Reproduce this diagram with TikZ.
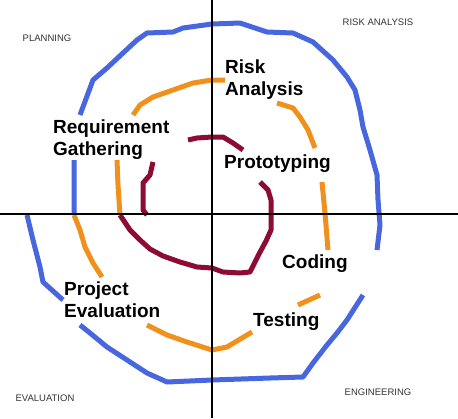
\documentclass[tikz,border=0pt]{standalone}
\usepackage{fontspec}
\setmainfont{Liberation Sans}
\definecolor{outerblue}{RGB}{72,102,222}
\definecolor{midorange}{RGB}{240,145,30}
\definecolor{innerred}{RGB}{140,12,52}

\begin{document}
\begin{tikzpicture}[x=1pt,y=-1pt,
   coil/.style={line width=5pt,line join=round},
   quadline/.style={line width=2pt},
   phase/.style={font=\fontsize{19}{22}\selectfont\bfseries,align=left,
                 anchor=north west,inner sep=0pt},
   quadrant/.style={font=\fontsize{9.5}{11}\selectfont,text=black!80,inner sep=0pt}]

\useasboundingbox (0,0) rectangle (458,418);

\draw[coil,outerblue]
    (27,215) -- (33,240) -- (40,267) -- (43,282) -- (63,300)
    (80,325) -- (90,333) -- (107,347) -- (127,360) -- (147,373) -- (167,382)
      -- (212,380) -- (270,378) -- (303,377) -- (313,363) -- (327,345)
      -- (337,333) -- (347,320) -- (363,295)
    (377,250) -- (380,225) -- (378,200) -- (377,175) -- (370,150) -- (363,127)
      -- (360,110) -- (355,90) -- (347,77) -- (333,60) -- (313,42) -- (293,33)
      -- (267,32) -- (240,23) -- (212,24) -- (183,28) -- (173,32) -- (147,33)
      -- (137,40) -- (123,53) -- (107,68) -- (93,80) -- (80,115)
    (74,160) -- (74,215);

\draw[coil,midorange]
    (74,215) -- (80,230) -- (85,247) -- (93,263) -- (102,277)
    (147,325) -- (167,335) -- (187,342) -- (212,350) -- (227,347) -- (252,332)
    (298,305) -- (320,295)
    (328,250) -- (325,213) -- (322,182)
    (315,148) -- (308,130) -- (300,117) -- (293,108) -- (277,103)
    (225,80) -- (212,80) -- (193,83) -- (173,90) -- (153,97) -- (140,105) -- (133,115)
    (117,160) -- (118,185) -- (120,215);

\draw[coil,innerred]
    (120,215) -- (130,230) -- (140,240) -- (150,249) -- (163,256) -- (180,262)
      -- (197,267) -- (212,268) -- (223,272) -- (240,273) -- (250,272)
      -- (259,254) -- (266,241) -- (271,230) -- (271,200) -- (268,190) -- (260,182)
    (243,150) -- (233,143) -- (223,137) -- (212,137) -- (197,138) -- (188,140)
    (153,162) -- (150,175) -- (143,183) -- (143,210) -- (147,215);

\draw[quadline] (212,0) -- (212,418);
\draw[quadline] (0,214) -- (458,214);

\node[phase] (risk) at (225,60) {Risk\\Analysis};
\node[phase] (req) at (53,120) {Requirement\\Gathering};
\node[phase] (proto) at (224,155) {Prototyping};
\node[phase] (code) at (282,255) {Coding};
\node[phase] (test) at (253,313) {Testing};
\node[phase] (eval) at (64,282) {Project\\Evaluation};

\node[quadrant] (plan) at (47,38) {PLANNING};
\node[quadrant] (riskq) at (378,22) {RISK ANALYSIS};
\node[quadrant] (evalq) at (45,398) {EVALUATION};
\node[quadrant] (eng) at (378,392) {ENGINEERING};

\end{tikzpicture}
\end{document}
